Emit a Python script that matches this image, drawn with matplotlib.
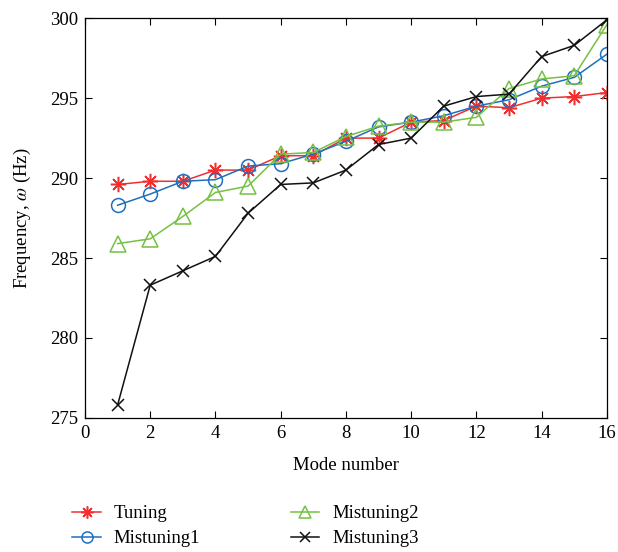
import matplotlib
matplotlib.use("Agg")
import matplotlib.pyplot as plt

modes = list(range(1, 17))
tuning = [289.6, 289.8, 289.8, 290.5, 290.5, 291.4, 291.4, 292.5, 292.5, 293.5, 293.6, 294.5, 294.4, 295.0, 295.1, 295.35]
mist1 = [288.3, 289.0, 289.8, 289.9, 290.75, 290.9, 291.5, 292.3, 293.2, 293.5, 293.9, 294.5, 294.9, 295.75, 296.3, 297.75]
mist2 = [285.9, 286.2, 287.6, 289.1, 289.5, 291.5, 291.6, 292.6, 293.25, 293.5, 293.5, 293.8, 295.6, 296.2, 296.4, 299.6]
mist3 = [275.8, 283.3, 284.2, 285.1, 287.8, 289.6, 289.7, 290.5, 292.1, 292.5, 294.5, 295.1, 295.25, 297.6, 298.3, 299.9]
labels = ["Tuning", "Mistuning1", "Mistuning2", "Mistuning3"]
xticks = list(range(0, 17, 2))
yticks = [275, 280, 285, 290, 295, 300]

plt.rcParams['font.family'] = ['Liberation Serif', 'DejaVu Serif']
plt.rcParams['mathtext.fontset'] = 'stix'
plt.rcParams['font.size'] = 13.5

fig = plt.figure(figsize=(6.18, 5.52), dpi=100)
ax = fig.add_axes([0.1375, 0.243, 0.8445, 0.724])

red = '#f03030'
blue = '#1f6fbf'
green = '#77c043'
black = '#111111'

ax.plot(modes, tuning, color=red, marker=(8, 2, 0), markersize=11, mew=1.1, lw=1.1, label=labels[0])
ax.plot(modes, mist1, color=blue, marker='o', markersize=10, mfc='none', mew=1.1, lw=1.1, label=labels[1])
ax.plot(modes, mist2, color=green, marker='^', markersize=11, mfc='none', mew=1.1, lw=1.1, label=labels[2])
ax.plot(modes, mist3, color=black, marker='x', markersize=9, mew=1.1, lw=1.1, label=labels[3])

ax.set_xlim(0, 16)
ax.set_ylim(275, 300)
ax.set_xticks(xticks)
ax.set_yticks(yticks)
ax.tick_params(direction='in', top=True, right=True, length=5, width=0.8, pad=5)
for s in ax.spines.values():
    s.set_linewidth(0.9)
ax.set_xlabel("Mode number", labelpad=11)
ax.set_ylabel("Frequency, $\\omega$ (Hz)", labelpad=12)

fig.legend(loc='lower left', bbox_to_anchor=(0.09, -0.022), ncol=2, frameon=False,
           handlelength=1.5, columnspacing=4.85, labelspacing=0.42, handletextpad=0.7,
           markerscale=0.8)

fig.savefig("out.png", dpi=100)
